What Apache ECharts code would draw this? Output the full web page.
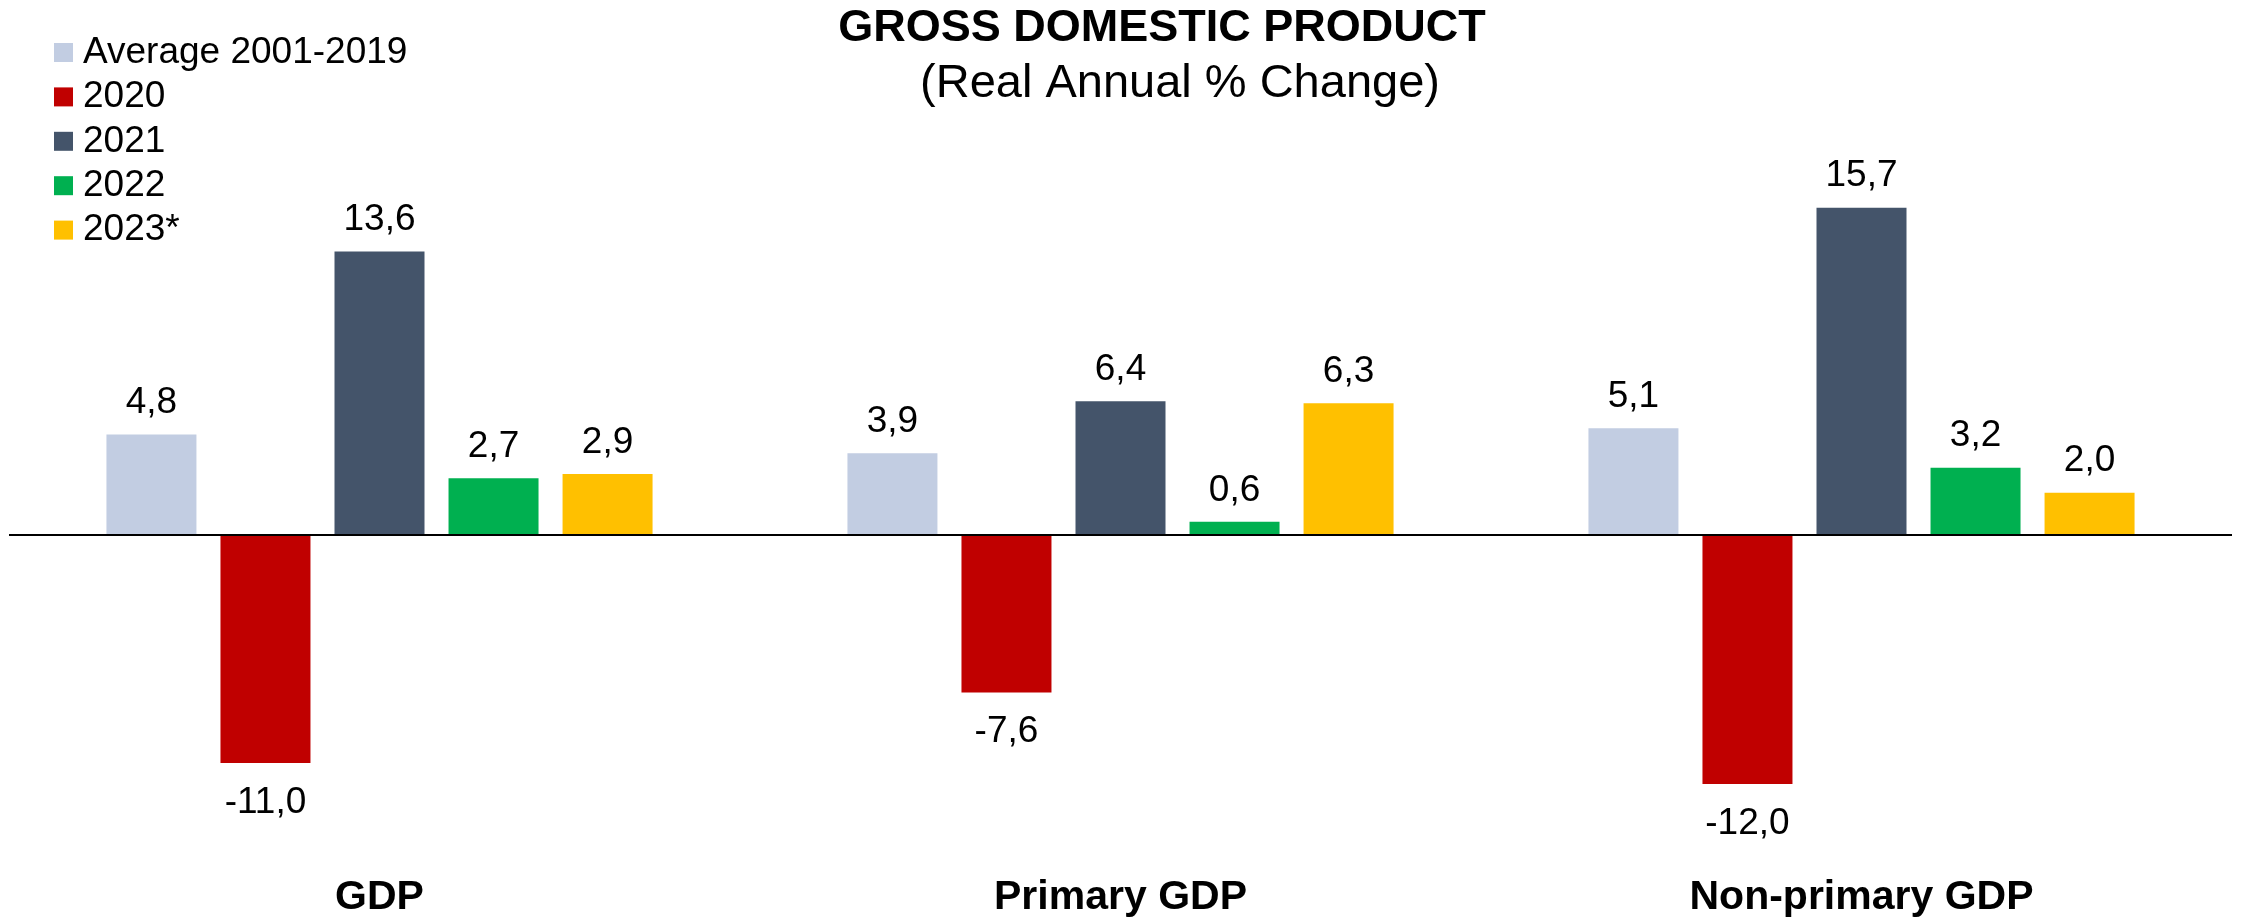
<!DOCTYPE html>
<html>
<head>
<meta charset="utf-8">
<script src="https://cdn.jsdelivr.net/npm/echarts@6/dist/echarts.min.js"></script>
<style>
  html, body { margin: 0; padding: 0; background: #fff; }
  #chart { width: 2247px; height: 921px; }
</style>
</head>
<body>
<div id="chart"></div>
<script>
// data
const categories = ['GDP', 'Primary GDP', 'Non-primary GDP'];
const avg2001_2019 = [4.8, 3.9, 5.1];
const y2020 = [-11.0, -7.6, -12.0];
const y2021 = [13.6, 6.4, 15.7];
const y2022 = [2.7, 0.6, 3.2];
const y2023 = [2.9, 6.3, 2.0];

const FONT = 'Liberation Sans, Arial, sans-serif';

const chart = echarts.init(document.getElementById('chart'));

const fmt = p => p.value.toFixed(1).replace('.', ',');

const makeSeries = (name, data, color) => {
  return {
    name: name,
    type: 'bar',
    // negative bars get their label a bit further below
    data: data.map(v => v < 0 ? { value: v, label: { distance: 21 } } : v),
    barWidth: 90,
    barGap: '26.7%',
    itemStyle: { color: color },
    label: {
      show: true,
      position: 'outside',
      distance: 13,
      formatter: fmt,
      fontFamily: FONT,
      fontSize: 37,
      color: '#000'
    }
  };
};

const series = [
  makeSeries('Average 2001-2019', avg2001_2019, '#C2CDE2'),
  makeSeries('2020', y2020, '#C00000'),
  makeSeries('2021', y2021, '#44546A'),
  makeSeries('2022', y2022, '#00B050'),
  makeSeries('2023*', y2023, '#FFC000')
];

// zero line
series[0].markLine = {
  silent: true,
  symbol: ['none', 'none'],
  label: { show: false },
  lineStyle: { color: '#000', width: 2, type: 'solid' },
  data: [{ yAxis: 0 }]
};

chart.setOption({
  animation: false,
  backgroundColor: '#fff',
  title: [
    {
      text: 'GROSS DOMESTIC PRODUCT',
      left: 1162,
      top: 6,
      padding: 0,
      textAlign: 'center',
      textStyle: { fontFamily: FONT, fontSize: 45, fontWeight: 'bold', color: '#000' }
    },
    {
      text: '(Real Annual % Change)',
      left: 1180,
      top: 61,
      padding: 0,
      textAlign: 'center',
      textStyle: { fontFamily: FONT, fontSize: 47, fontWeight: 'normal', color: '#000' }
    }
  ],
  legend: {
    orient: 'vertical',
    left: 54,
    top: 34,
    padding: 0,
    itemWidth: 19,
    itemHeight: 19,
    itemGap: 7.4,
    icon: 'rect',
    textStyle: { fontFamily: FONT, fontSize: 37, color: '#000', padding: [0, 0, 0, 5] },
    data: series.map(s => s.name)
  },
  grid: { left: 9, right: 15, top: 76.7, bottom: 53.9 },
  xAxis: {
    type: 'category',
    data: categories,
    axisLine: { show: false, onZero: false },
    axisTick: { show: false },
    axisLabel: { margin: 10, fontFamily: FONT, fontSize: 41, fontWeight: 'bold', color: '#000' }
  },
  yAxis: {
    type: 'value',
    min: -16,
    max: 22,
    show: false
  },
  series: series
});
</script>
</body>
</html>
